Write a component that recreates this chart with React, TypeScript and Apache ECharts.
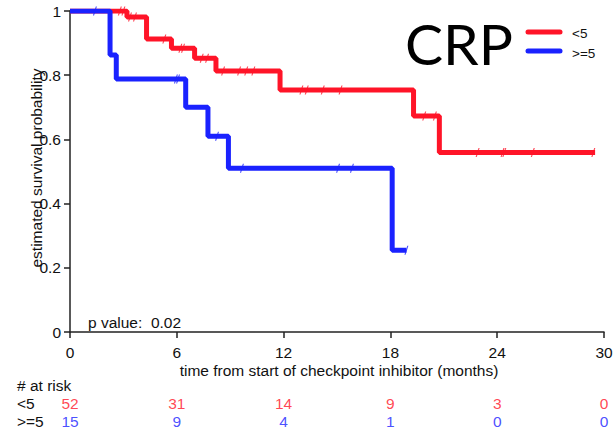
import React, { useEffect, useRef } from "react";
import * as echarts from "echarts";

// Kaplan-Meier step data (time in months, survival probability)
const lowTimes = [0, 3.2, 4.3, 5.7, 7.0, 8.2, 11.8, 19.3, 20.75, 29.5];
const lowSurv = [1, 0.981, 0.913, 0.884, 0.853, 0.813, 0.754, 0.673, 0.559, 0.559];
const highTimes = [0, 2.25, 2.6, 6.5, 7.75, 8.9, 18.1, 18.9];
const highSurv = [1, 0.863, 0.788, 0.70, 0.61, 0.51, 0.255, 0.255];

// censoring times
const lowCensor = [2.8, 3.0, 3.37, 3.65, 5.3, 6.2, 6.35, 7.4, 7.7, 8.6, 9.5, 9.9, 10.3, 13.0, 13.3, 14.2, 15.2, 19.9, 20.5, 22.9, 24.3, 24.4, 26.0, 29.4];
const highCensor = [1.4, 5.95, 6.07, 8.26, 9.66, 15.06, 15.84, 18.9];

// number at risk table
const riskTimes = [0, 6, 12, 18, 24, 30];
const riskLow = [52, 31, 14, 9, 3, 0];
const riskHigh = [15, 9, 4, 1, 0, 0];

const xTicks = [0, 6, 12, 18, 24, 30];
const groupLabels = ["<5", ">=5"];

const RED = "#ff1428";
const BLUE = "#1a22ff";
const FONT = "Liberation Sans, Arial, sans-serif";
const FS = 15.5;

function survAt(times: number[], surv: number[], t: number) {
  let s = surv[0];
  for (let i = 0; i < times.length; i++) {
    if (times[i] <= t) s = surv[i];
  }
  return s;
}

const CENSOR = "path://M3,0 L4.2,0 L1.2,10 L0,10 Z";

export default function App() {
  const ref = useRef<HTMLDivElement>(null);
  useEffect(() => {
    document.body.style.margin = "0";
    const chart = echarts.init(ref.current!, null, { renderer: "svg" });
    const txt = (text: string, x: number, y: number, size = FS, align = "left") => ({
      type: "text",
      x,
      y,
      style: { text, fill: "#111", font: `${size}px ${FONT}`, align, verticalAlign: "middle" },
    });
    const option: any = {
      animation: false,
      textStyle: { fontFamily: FONT },
      grid: [
        { left: 70, right: 12, top: 11, bottom: 98 },
        { left: 70, right: 12, top: 403, height: 18 },
      ],
      xAxis: [
        {
          type: "value",
          gridIndex: 0,
          min: 0,
          max: 30,
          interval: 6,
          axisLine: { show: true, lineStyle: { color: "#222", width: 1.5 } },
          axisTick: { show: true, length: 6, lineStyle: { color: "#222", width: 1.5 } },
          axisLabel: { color: "#111", fontSize: FS, margin: 12, fontFamily: FONT,
            formatter: (v: number) => (xTicks.includes(v) ? String(v) : "") },
          splitLine: { show: false },
        },
        { type: "value", gridIndex: 1, min: 0, max: 30, show: false },
      ],
      yAxis: [
        {
          type: "value",
          gridIndex: 0,
          min: 0,
          max: 1,
          interval: 0.2,
          axisLine: { show: true, lineStyle: { color: "#222", width: 1.5 } },
          axisTick: { show: true, length: 6, lineStyle: { color: "#222", width: 1.5 } },
          axisLabel: { color: "#111", fontSize: FS, margin: 9, fontFamily: FONT },
          splitLine: { show: false },
        },
        { type: "value", gridIndex: 1, min: 0, max: 1, show: false },
      ],
      series: [
        {
          type: "line",
          name: groupLabels[0],
          step: "end",
          showSymbol: false,
          data: lowTimes.map((t, i) => [t, lowSurv[i]]),
          lineStyle: { color: RED, width: 5 },
          itemStyle: { color: RED },
          z: 2,
        },
        {
          type: "scatter",
          data: lowCensor.map((t) => [t, survAt(lowTimes, lowSurv, t)]),
          symbol: CENSOR,
          symbolSize: [4, 9],
          itemStyle: { color: RED },
          z: 3,
        },
        {
          type: "line",
          name: groupLabels[1],
          step: "end",
          showSymbol: false,
          data: highTimes.map((t, i) => [t, highSurv[i]]),
          lineStyle: { color: BLUE, width: 5 },
          itemStyle: { color: BLUE },
          z: 4,
        },
        {
          type: "scatter",
          data: highCensor.map((t) => [t, survAt(highTimes, highSurv, t)]),
          symbol: CENSOR,
          symbolSize: [4, 9],
          itemStyle: { color: BLUE },
          z: 5,
        },
        {
          type: "scatter",
          xAxisIndex: 1,
          yAxisIndex: 1,
          data: riskTimes.map((t, i) => [t, 1, riskLow[i]]),
          symbolSize: 1,
          itemStyle: { color: "transparent" },
          label: {
            show: true,
            position: "inside",
            formatter: (p: any) => String(p.value[2]),
            color: RED,
            fontSize: FS,
            fontFamily: FONT,
          },
        },
        {
          type: "scatter",
          xAxisIndex: 1,
          yAxisIndex: 1,
          data: riskTimes.map((t, i) => [t, 0, riskHigh[i]]),
          symbolSize: 1,
          itemStyle: { color: "transparent" },
          label: {
            show: true,
            position: "inside",
            formatter: (p: any) => String(p.value[2]),
            color: BLUE,
            fontSize: FS,
            fontFamily: FONT,
          },
        },
      ],
      graphic: [
        {
          type: "text",
          x: 36,
          y: 168,
          rotation: Math.PI / 2,
          style: {
            text: "estimated survival probability",
            fill: "#111",
            font: `15.5px ${FONT}`,
            align: "center",
            verticalAlign: "middle",
          },
        },
        txt("time from start of checkpoint inhibitor (months)", 339, 370, FS, "center"),
        txt("p value:  0.02", 88, 322),
        txt("# at risk", 17, 385),
        txt(groupLabels[0], 17, 403),
        txt(groupLabels[1], 17, 421),
        {
          type: "text",
          x: 405,
          y: 43,
          style: {
            text: "CRP",
            fill: "#000",
            font: `57px Lato, "Open Sans", sans-serif`,
            align: "left",
            verticalAlign: "middle",
          },
        },
        {
          type: "line",
          shape: { x1: 528, y1: 32, x2: 560, y2: 32 },
          style: { stroke: RED, lineWidth: 5, lineCap: "round" },
        },
        {
          type: "line",
          shape: { x1: 528, y1: 51, x2: 560, y2: 51 },
          style: { stroke: BLUE, lineWidth: 5, lineCap: "round" },
        },
        txt(groupLabels[0], 572, 33, 13.5),
        txt(groupLabels[1], 572, 53, 13.5),
      ],
    };
    chart.setOption(option);
    return () => chart.dispose();
  }, []);
  return <div ref={ref} style={{ width: 616, height: 430 }} />;
}
